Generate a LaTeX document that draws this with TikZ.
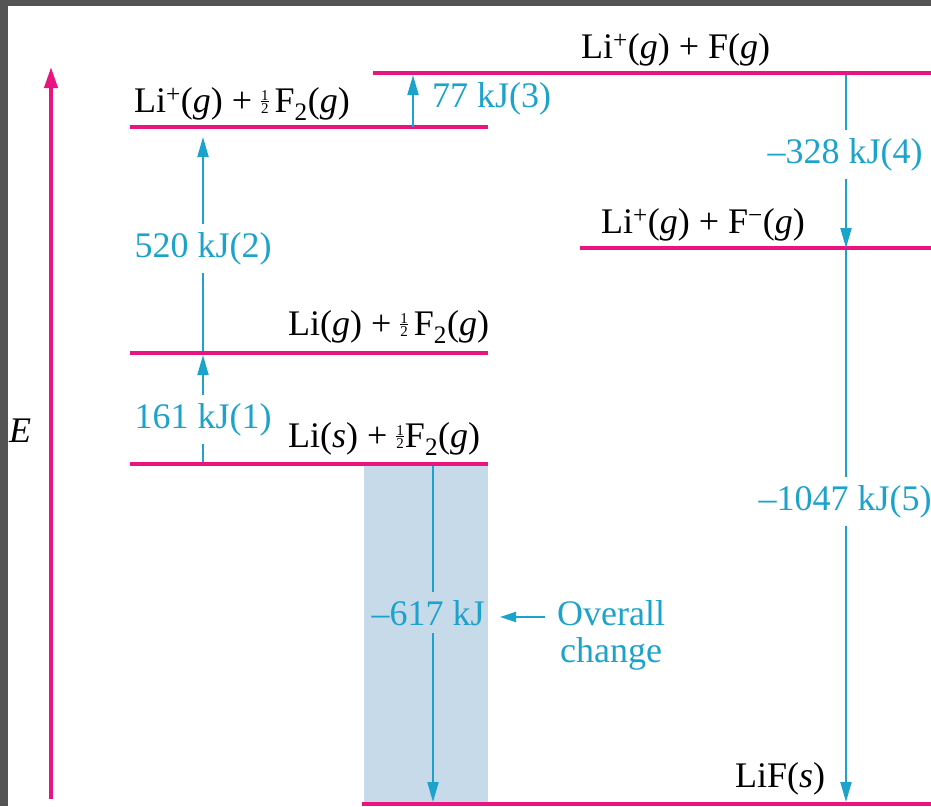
\documentclass[tikz,border=0pt]{standalone}
\usepackage{fontspec}
\setmainfont{Liberation Serif}
\usetikzlibrary{arrows.meta}

\definecolor{levelpink}{RGB}{233,20,128}
\definecolor{stepcyan}{RGB}{28,163,204}
\definecolor{netband}{RGB}{198,218,234}
\definecolor{framegray}{RGB}{84,84,84}

% small stacked one-half
\newcommand\hf{\raisebox{-1pt}{\vbox{\hbox{\fontsize{15}{15}\selectfont 1}\kern1pt\hrule height 0.8pt\kern1pt\hbox{\fontsize{15}{15}\selectfont 2}}}}
\newcommand\gs{(\textit{g})}

\begin{document}
\begin{tikzpicture}[x=1pt,y=-1pt,
  font=\fontsize{36}{40}\selectfont,
  level/.style={levelpink,line width=4pt},
  stepline/.style={stepcyan,line width=2pt,-{Triangle[width=11pt,length=20pt]}},
  lbl/.style={inner sep=0pt,anchor=base west},
  steplbl/.style={text=stepcyan,fill=white,inner xsep=2pt,inner ysep=8pt,anchor=base}]
\useasboundingbox (0,0) rectangle (931,806);

% frame edges
\fill[framegray] (0,0) rectangle (931,6);
\fill[framegray] (0,0) rectangle (8,806);

% band of the overall change
\fill[netband] (364,464) rectangle (488,806);

% energy axis
\coordinate (eb) at (51,799);
\coordinate (et) at (51,67);
\draw[levelpink,line width=4pt,-{Triangle[width=13pt,length=21pt]}] (eb) -- (et);
\node[lbl] (E) at (9,442) {\textit{E}};

% energy levels
\draw[level] (130,127) -- (488,127);
\draw[level] (373,73) -- (931,73);
\draw[level] (580,248) -- (931,248);
\draw[level] (130,353) -- (488,353);
\draw[level] (130,464) -- (488,464);
\draw[level] (362,804) -- (931,804);

% level labels
\node[lbl] (liplushalf) at (134,112) {Li\textsuperscript{+}\gs{} + \hf\hspace{6pt}F\textsubscript{2}\gs};
\node[lbl] (liplusf) at (581,58) {Li\textsuperscript{+}\gs{} + F\gs};
\node[lbl] (liplusfminus) at (601,233) {Li\textsuperscript{+}\gs{} + F\textsuperscript{−}\gs};
\node[lbl] (ligas) at (288,335) {Li\gs{} + \hf\hspace{6pt}F\textsubscript{2}\gs};
\node[lbl] (lisolid) at (288,447) {Li(\textit{s}) + \hf\hspace{1pt}F\textsubscript{2}\gs};
\node[lbl] (lif) at (735,787) {LiF(\textit{s})};

% step arrows
\coordinate (s1a) at (203,462);
\coordinate (s1b) at (203,355);
\coordinate (s2a) at (203,351);
\coordinate (s2b) at (203,137);
\coordinate (s3a) at (413,127);
\coordinate (s3b) at (413,75);
\coordinate (s4a) at (846,75);
\coordinate (s4b) at (846,248);
\coordinate (s5a) at (846,250);
\coordinate (s5b) at (846,802);
\coordinate (nta) at (433,466);
\coordinate (ntb) at (433,802);

\draw[stepline] (s1a) -- (s1b);
\node[steplbl] (l1) at (203,428) {161 kJ(1)};
\draw[stepline] (s2a) -- (s2b);
\node[steplbl] (l2) at (203,257) {520 kJ(2)};
\draw[stepline] (s3a) -- (s3b);
\node[lbl,text=stepcyan] (l3) at (432,107) {77 kJ(3)};
\draw[stepline] (s4a) -- (s4b);
\node[steplbl] (l4) at (845,163) {–328 kJ(4)};
\draw[stepline] (s5a) -- (s5b);
\node[steplbl] (l5) at (845,510) {–1047 kJ(5)};
\draw[stepline] (nta) -- (ntb);
\node[steplbl,fill=netband] (lnet) at (428,625) {–617 kJ};

% pointer to the overall change
\node[lbl,text=stepcyan] (ov) at (557,625) {Overall};
\node[lbl,text=stepcyan] (ch) at (560,662) {change};
\coordinate (pa) at (545,617);
\coordinate (pb) at (500,617);
\draw[stepline,-{Triangle[width=10pt,length=16pt]}] (pa) -- (pb);
\end{tikzpicture}
\end{document}
